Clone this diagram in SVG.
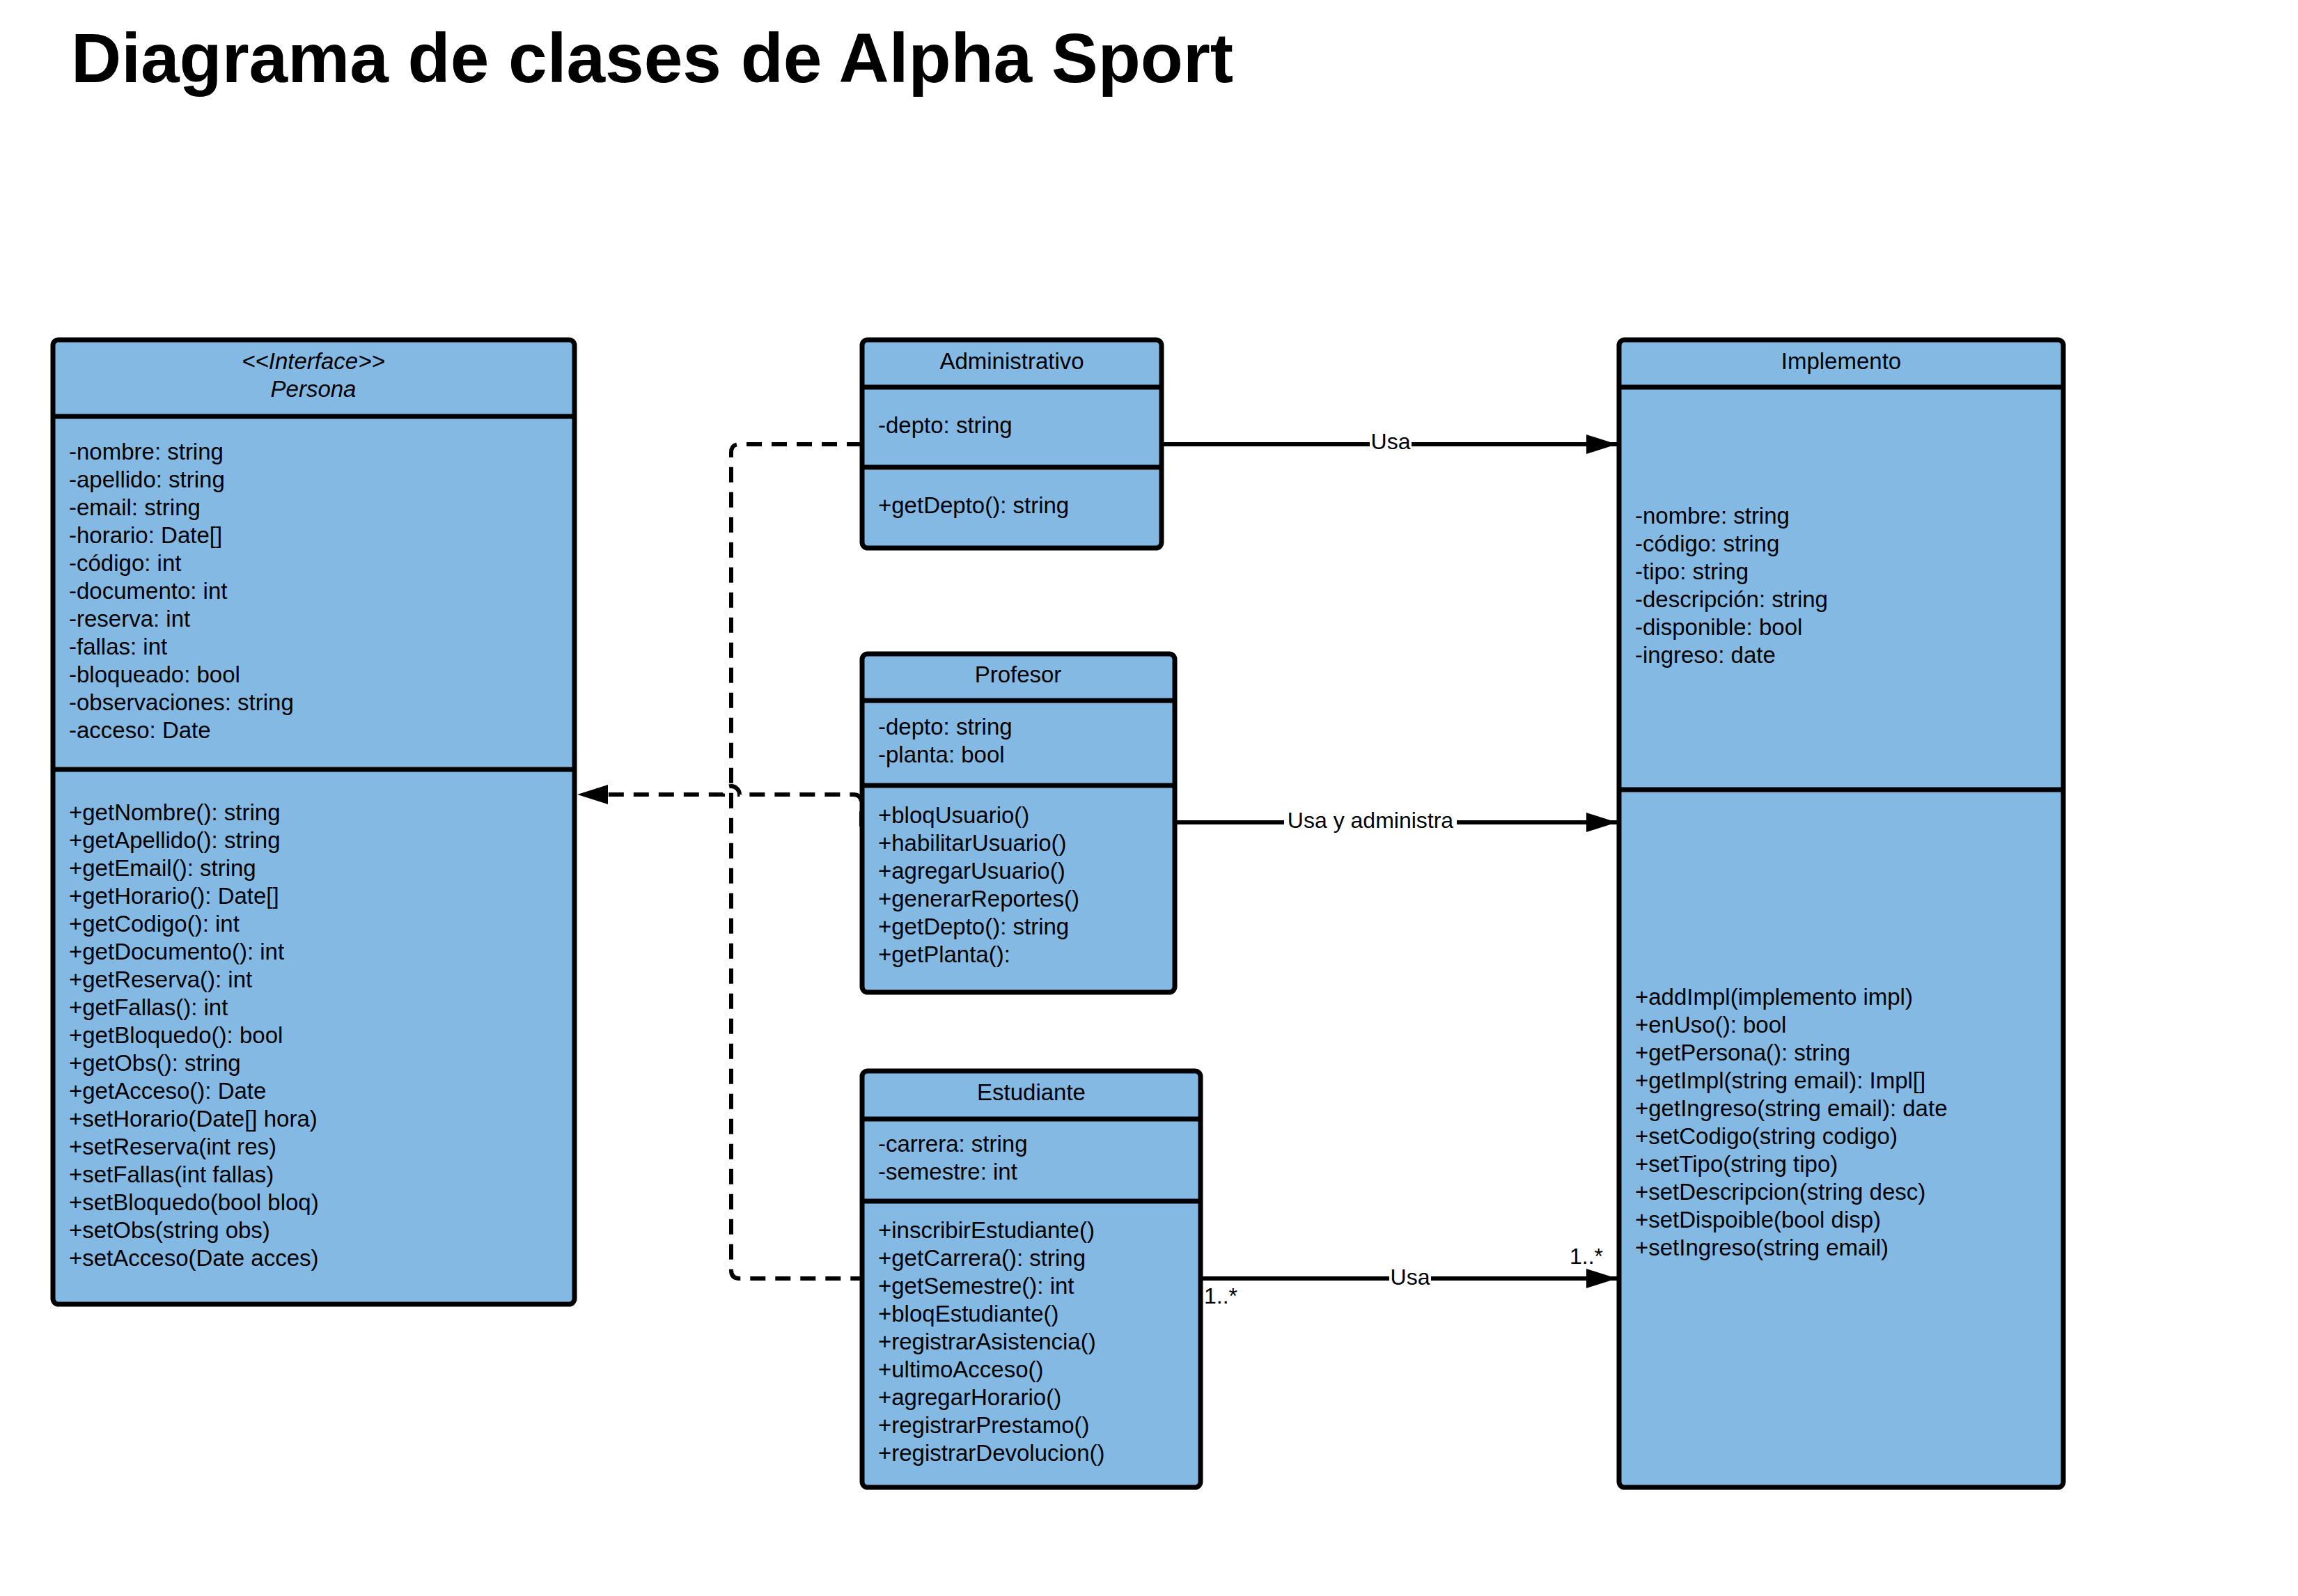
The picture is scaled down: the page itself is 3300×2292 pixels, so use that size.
<svg xmlns="http://www.w3.org/2000/svg" width="3300" height="2292" viewBox="0 0 3300 2292">
<style>
.box{fill:#83b9e3;stroke:#000;stroke-width:7}
.div{stroke:#000;stroke-width:7}
.t{font-family:"Liberation Sans",Arial,sans-serif;font-size:33px;fill:#000}
.c{text-anchor:middle}
.i{font-style:italic}
.lbl{font-family:"Liberation Sans",Arial,sans-serif;font-size:32px;fill:#000}
.solid{fill:none;stroke:#000;stroke-width:6}
.dash{fill:none;stroke:#000;stroke-width:6;stroke-dasharray:22 14}
.bg{fill:#fff}
</style>
<defs>
<marker id="arr" markerUnits="userSpaceOnUse" markerWidth="44" markerHeight="28" viewBox="0 0 44 28" refX="44" refY="14" orient="auto">
<path d="M0,0 L44,14 L0,28 z" fill="#000"/>
</marker>
</defs>
<rect width="3300" height="2292" fill="#fff"/>
<text x="102" y="118" font-family="'Liberation Sans',Arial,sans-serif" font-size="100" font-weight="bold">Diagrama de clases de Alpha Sport</text>

<g id="connectors">
<path class="dash" d="M1238,638 H1062 Q1050,638 1050,650 V1824 Q1050,1836 1062,1836 H1238"/>
<path class="dash" d="M1237,1187 V1153 Q1237,1141 1225,1141 H1062 A12,12 0 0 0 1038,1141 H829" marker-end="url(#arr)"/>
<path class="solid" d="M1668,638 H2322" marker-end="url(#arr)"/>
<rect class="bg" x="1967" y="617" width="60" height="34"/>
<text class="lbl c" x="1997" y="645">Usa</text>
<path class="solid" d="M1687,1181 H2322" marker-end="url(#arr)"/>
<rect class="bg" x="1844" y="1160" width="248" height="34"/>
<text class="lbl c" x="1968" y="1189">Usa y administra</text>
<path class="solid" d="M1724,1836 H2322" marker-end="url(#arr)"/>
<rect class="bg" x="1995" y="1816" width="60" height="34"/>
<text class="lbl c" x="2025" y="1845">Usa</text>
<text class="lbl" x="1729" y="1872">1..*</text>
<text class="lbl" x="2254" y="1815">1..*</text>
</g>

<g id="persona">
<rect class="box" x="76" y="488" width="749" height="1385" rx="8"/>
<line class="div" x1="76" y1="598" x2="825" y2="598"/>
<line class="div" x1="76" y1="1105" x2="825" y2="1105"/>
<text class="t c i" x="450" y="530">&lt;&lt;Interface&gt;&gt;</text>
<text class="t c i" x="450" y="570">Persona</text>
<text class="t" x="99" y="660">-nombre: string</text>
<text class="t" x="99" y="700">-apellido: string</text>
<text class="t" x="99" y="740">-email: string</text>
<text class="t" x="99" y="780">-horario: Date[]</text>
<text class="t" x="99" y="820">-código: int</text>
<text class="t" x="99" y="860">-documento: int</text>
<text class="t" x="99" y="900">-reserva: int</text>
<text class="t" x="99" y="940">-fallas: int</text>
<text class="t" x="99" y="980">-bloqueado: bool</text>
<text class="t" x="99" y="1020">-observaciones: string</text>
<text class="t" x="99" y="1060">-acceso: Date</text>
<text class="t" x="99" y="1178">+getNombre(): string</text>
<text class="t" x="99" y="1218">+getApellido(): string</text>
<text class="t" x="99" y="1258">+getEmail(): string</text>
<text class="t" x="99" y="1298">+getHorario(): Date[]</text>
<text class="t" x="99" y="1338">+getCodigo(): int</text>
<text class="t" x="99" y="1378">+getDocumento(): int</text>
<text class="t" x="99" y="1418">+getReserva(): int</text>
<text class="t" x="99" y="1458">+getFallas(): int</text>
<text class="t" x="99" y="1498">+getBloquedo(): bool</text>
<text class="t" x="99" y="1538">+getObs(): string</text>
<text class="t" x="99" y="1578">+getAcceso(): Date</text>
<text class="t" x="99" y="1618">+setHorario(Date[] hora)</text>
<text class="t" x="99" y="1658">+setReserva(int res)</text>
<text class="t" x="99" y="1698">+setFallas(int fallas)</text>
<text class="t" x="99" y="1738">+setBloquedo(bool bloq)</text>
<text class="t" x="99" y="1778">+setObs(string obs)</text>
<text class="t" x="99" y="1818">+setAcceso(Date acces)</text>
</g>

<g id="administrativo">
<rect class="box" x="1238" y="488" width="430" height="299" rx="8"/>
<line class="div" x1="1238" y1="556" x2="1668" y2="556"/>
<line class="div" x1="1238" y1="671" x2="1668" y2="671"/>
<text class="t c" x="1453" y="530">Administrativo</text>
<text class="t" x="1261" y="622">-depto: string</text>
<text class="t" x="1261" y="737">+getDepto(): string</text>
</g>

<g id="profesor">
<rect class="box" x="1238" y="939" width="449" height="486" rx="8"/>
<line class="div" x1="1238" y1="1006" x2="1687" y2="1006"/>
<line class="div" x1="1238" y1="1128" x2="1687" y2="1128"/>
<text class="t c" x="1462" y="980">Profesor</text>
<text class="t" x="1261" y="1055">-depto: string</text>
<text class="t" x="1261" y="1095">-planta: bool</text>
<text class="t" x="1261" y="1182">+bloqUsuario()</text>
<text class="t" x="1261" y="1222">+habilitarUsuario()</text>
<text class="t" x="1261" y="1262">+agregarUsuario()</text>
<text class="t" x="1261" y="1302">+generarReportes()</text>
<text class="t" x="1261" y="1342">+getDepto(): string</text>
<text class="t" x="1261" y="1382">+getPlanta():</text>
</g>

<g id="estudiante">
<rect class="box" x="1238" y="1538" width="486" height="598" rx="8"/>
<line class="div" x1="1238" y1="1607" x2="1724" y2="1607"/>
<line class="div" x1="1238" y1="1725" x2="1724" y2="1725"/>
<text class="t c" x="1481" y="1580">Estudiante</text>
<text class="t" x="1261" y="1654">-carrera: string</text>
<text class="t" x="1261" y="1694">-semestre: int</text>
<text class="t" x="1261" y="1778">+inscribirEstudiante()</text>
<text class="t" x="1261" y="1818">+getCarrera(): string</text>
<text class="t" x="1261" y="1858">+getSemestre(): int</text>
<text class="t" x="1261" y="1898">+bloqEstudiante()</text>
<text class="t" x="1261" y="1938">+registrarAsistencia()</text>
<text class="t" x="1261" y="1978">+ultimoAcceso()</text>
<text class="t" x="1261" y="2018">+agregarHorario()</text>
<text class="t" x="1261" y="2058">+registrarPrestamo()</text>
<text class="t" x="1261" y="2098">+registrarDevolucion()</text>
</g>

<g id="implemento">
<rect class="box" x="2325" y="488" width="638" height="1648" rx="8"/>
<line class="div" x1="2325" y1="556" x2="2963" y2="556"/>
<line class="div" x1="2325" y1="1134" x2="2963" y2="1134"/>
<text class="t c" x="2644" y="530">Implemento</text>
<text class="t" x="2348" y="752">-nombre: string</text>
<text class="t" x="2348" y="792">-código: string</text>
<text class="t" x="2348" y="832">-tipo: string</text>
<text class="t" x="2348" y="872">-descripción: string</text>
<text class="t" x="2348" y="912">-disponible: bool</text>
<text class="t" x="2348" y="952">-ingreso: date</text>
<text class="t" x="2348" y="1443">+addImpl(implemento impl)</text>
<text class="t" x="2348" y="1483">+enUso(): bool</text>
<text class="t" x="2348" y="1523">+getPersona(): string</text>
<text class="t" x="2348" y="1563">+getImpl(string email): Impl[]</text>
<text class="t" x="2348" y="1603">+getIngreso(string email): date</text>
<text class="t" x="2348" y="1643">+setCodigo(string codigo)</text>
<text class="t" x="2348" y="1683">+setTipo(string tipo)</text>
<text class="t" x="2348" y="1723">+setDescripcion(string desc)</text>
<text class="t" x="2348" y="1763">+setDispoible(bool disp)</text>
<text class="t" x="2348" y="1803">+setIngreso(string email)</text>
</g>
</svg>
